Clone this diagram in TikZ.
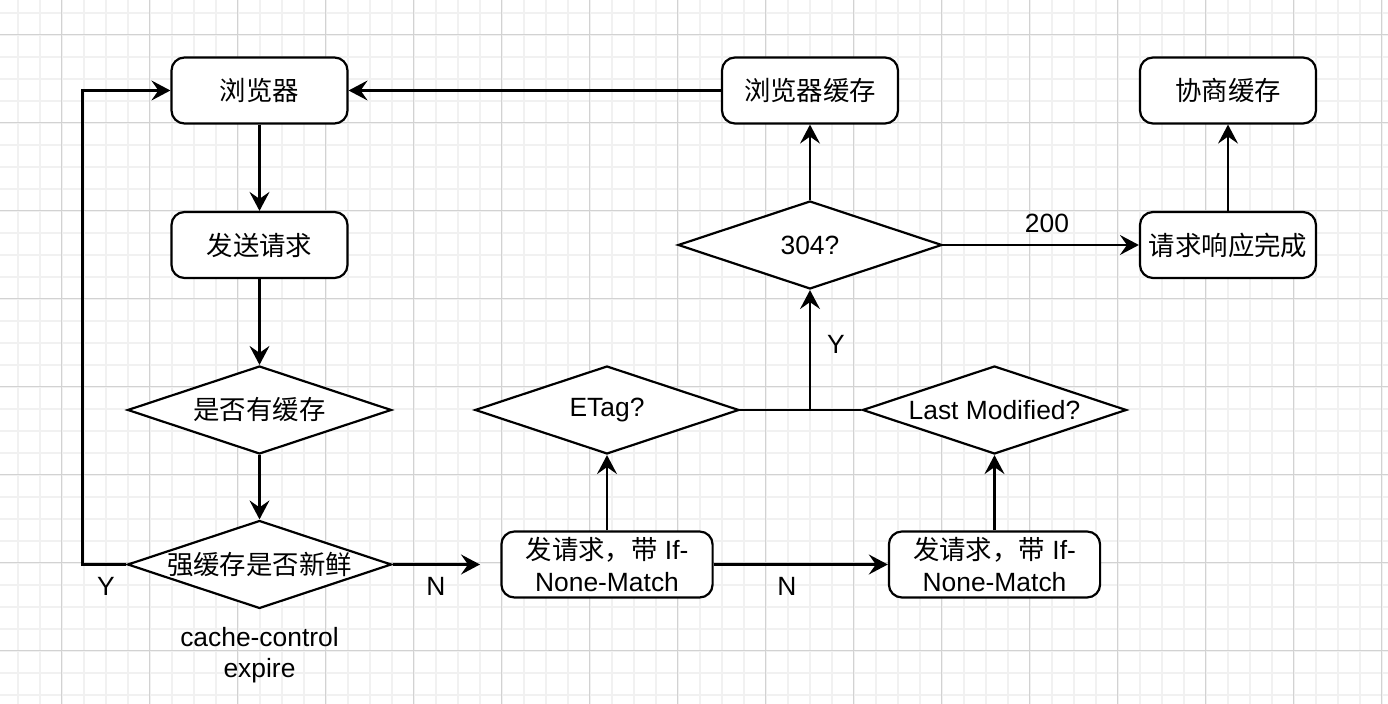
\documentclass[tikz,border=0pt]{standalone}
\usepackage{fontspec}
\setmainfont{Liberation Sans}
\newfontfamily\cjk{Noto Sans CJK SC}
\usetikzlibrary{shapes.geometric,arrows.meta}
\newcommand\zh[1]{{\cjk #1}}
\definecolor{gridminor}{HTML}{F1F1F1}
\definecolor{gridmajor}{HTML}{D2D2D2}
\begin{document}
\begin{tikzpicture}[x=0.5pt,y=-0.5pt,
  every node/.style={font=\fontsize{13.2}{15.6}\selectfont, inner sep=0pt},
  box/.style={draw, line width=1.1pt, rounded corners=6.5pt, minimum width=88pt,
    minimum height=33pt, align=center, fill=white},
  widebox/.style={box, minimum width=105.6pt},
  dia/.style={draw, diamond, line width=1.1pt, minimum width=132pt,
    minimum height=44pt, fill=white},
  arr/.style={line width=1.1pt, -{Stealth[length=9.5pt,width=10pt,inset=3.5pt]}},
  plain/.style={line width=1.1pt}]

% canvas and grid
\useasboundingbox (0,0) rectangle (1388,704);
\fill[white] (0,0) rectangle (1388,704);
\foreach \i in {0,...,62}
  \draw[line width=1pt, gridminor] ({17.5+22*\i},0) -- ({17.5+22*\i},704);
\foreach \j in {0,...,31}
  \draw[line width=1pt, gridminor] (0,{13+22*\j}) -- (1388,{13+22*\j});
\foreach \i in {0,...,15}
  \draw[line width=0.5pt, gridmajor] ({61.5+88*\i},0) -- ({61.5+88*\i},704);
\foreach \j in {0,...,7}
  \draw[line width=0.5pt, gridmajor] (0,{35+88*\j}) -- (1388,{35+88*\j});

% left column: strong cache check
\node[box] (browser) at (259.5,90.5) {\zh{浏览器}};
\node[box] (send) at (259.5,245) {\zh{发送请求}};
\node[dia] (has) at (259.5,410) {\makebox[0pt]{\zh{是否有缓存}}};
\node[dia] (fresh) at (259.5,564.5) {\makebox[0pt]{\zh{强缓存是否新鲜}}};
\node[align=center] (cc) at (259.5,655.5) {cache-control\\expire};
\node (ly) at (106,586) {Y};
\node (ln1) at (436,586) {N};
\coordinate (nend) at (480,564.5);

% revalidation requests
\node[widebox] (req1) at (607,564.5) {\zh{发请求，带} If-\\None-Match};
\node[widebox] (req2) at (994.5,564.5) {\zh{发请求，带} If-\\None-Match};
\node (ln2) at (787,586) {N};
\node[dia] (etag) at (607,410) {\makebox[0pt]{ETag?}};
\node[dia] (lm) at (994.5,410) {\makebox[0pt]{Last Modified?}};
\node (lyes) at (836,344) {Y};

% server answer
\node[dia] (q304) at (810,245) {\makebox[0pt]{304?}};
\node[box] (bcache) at (810,90.5) {\zh{浏览器缓存}};
\node[box] (done) at (1228,245) {\zh{请求响应完成}};
\node[box] (nego) at (1228,90.5) {\zh{协商缓存}};
\node (l200) at (1047,223) {200};

% connectors
\draw[arr] (browser) -- (send);
\draw[arr] (send) -- (has);
\draw[arr] (has) -- (fresh);
\draw[arr] (fresh.west) -- ++(-44,0) |- (browser.west);
\draw[arr] (fresh.east) -- (nend);
\draw[arr] (req1) -- (req2);
\draw[arr] (req1) -- (etag);
\draw[arr] (req2) -- (lm);
\draw[plain] (etag.east) -- (lm.west);
\coordinate (join) at (etag.east -| q304.south);
\draw[arr] (join) -- (q304.south);
\draw[arr] (q304) -- (bcache);
\draw[arr] (bcache) -- (browser);
\draw[arr] (q304) -- (done);
\draw[arr] (done) -- (nego);
\end{tikzpicture}
\end{document}
